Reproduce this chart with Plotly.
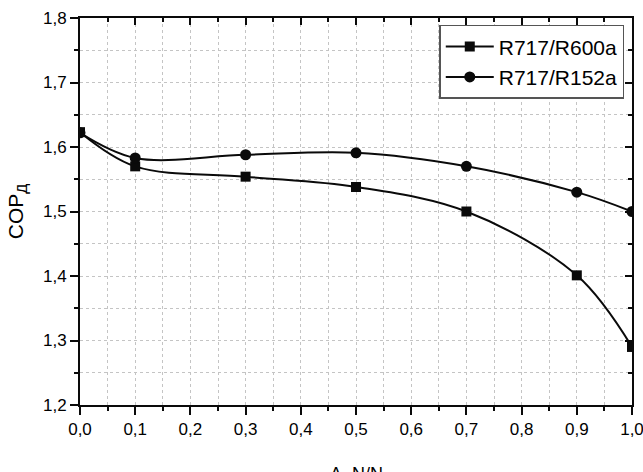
import plotly.graph_objects as go

# Mixture fraction and coefficient of performance for each working pair
fraction = [0.0, 0.1, 0.3, 0.5, 0.7, 0.9, 1.0]
cop_r600a = [1.623, 1.570, 1.554, 1.538, 1.500, 1.401, 1.290]
cop_r152a = [1.622, 1.583, 1.588, 1.591, 1.570, 1.530, 1.500]
series_names = ["R717/R600a", "R717/R152a"]

x_tick_vals = [0.0, 0.1, 0.2, 0.3, 0.4, 0.5, 0.6, 0.7, 0.8, 0.9, 1.0]
y_tick_vals = [1.2, 1.3, 1.4, 1.5, 1.6, 1.7, 1.8]

font_family = "Liberation Sans, Arial, sans-serif"
ink = "#0a0a0a"
grid_color = "#c4c4c4"

fig = go.Figure()

fig.add_trace(go.Scatter(
    x=fraction, y=cop_r600a, name=series_names[0],
    mode="lines+markers",
    line=dict(color=ink, width=2, shape="spline", smoothing=1.0),
    marker=dict(symbol="square", size=10, color=ink),
    cliponaxis=True,
))
fig.add_trace(go.Scatter(
    x=fraction, y=cop_r152a, name=series_names[1],
    mode="lines+markers",
    line=dict(color=ink, width=2, shape="spline", smoothing=1.0),
    marker=dict(symbol="circle", size=11, color=ink),
    cliponaxis=True,
))

axis_common = dict(
    showline=True, linecolor=ink, linewidth=2,
    ticks="outside", tickcolor=ink, tickwidth=2, ticklen=8,
    tickfont=dict(family=font_family, size=17, color="#000000"),
    ticklabeloverflow="allow", automargin=False,
    showgrid=True, gridcolor=grid_color, griddash="dot", gridwidth=1,
    zeroline=False, mirror=False,
)

fig.update_layout(
    width=643, height=472,
    margin=dict(l=80, r=11, t=18, b=67),
    paper_bgcolor="white", plot_bgcolor="white",
    separators=", ",
    showlegend=True,
    legend=dict(
        x=0.986, y=0.982, xanchor="right", yanchor="top",
        bgcolor="white", bordercolor="#555555", borderwidth=1.5,
        font=dict(family=font_family, size=21, color="#000000"),
        tracegroupgap=0, itemwidth=48,
    ),
    xaxis=dict(
        range=[0.0, 1.0], tickvals=x_tick_vals, tickformat=".1f",
        minor=dict(dtick=0.05, tick0=0, ticks="outside", ticklen=4, tickcolor=ink,
                   tickwidth=2, showgrid=True, gridcolor=grid_color, griddash="dot"),
        **axis_common,
    ),
    yaxis=dict(
        range=[1.2, 1.8], tickvals=y_tick_vals, tickformat=".1f",
        minor=dict(dtick=0.05, tick0=1.2, ticks="outside", ticklen=4, tickcolor=ink,
                   tickwidth=2, showgrid=True, gridcolor=grid_color, griddash="dot"),
        title=dict(text="COP<sub>Д</sub>",
                   font=dict(family=font_family, size=21, color="#000000"), standoff=14),
        **axis_common,
    ),
    # Frame on the top and right with inward ticks
    xaxis2=dict(
        overlaying="x", side="top", matches="x", range=[0.0, 1.0],
        showline=True, linecolor=ink, linewidth=2, automargin=False,
        ticks="inside", tickcolor=ink, tickwidth=2, ticklen=7,
        tickvals=x_tick_vals, showticklabels=False, showgrid=False, zeroline=False,
        minor=dict(dtick=0.05, tick0=0, ticks="inside", ticklen=4, tickcolor=ink, tickwidth=2),
    ),
    yaxis2=dict(
        overlaying="y", side="right", matches="y", range=[1.2, 1.8],
        showline=True, linecolor=ink, linewidth=2, automargin=False,
        ticks="inside", tickcolor=ink, tickwidth=2, ticklen=7,
        tickvals=y_tick_vals, showticklabels=False, showgrid=False, zeroline=False,
        minor=dict(dtick=0.05, tick0=1.2, ticks="inside", ticklen=4, tickcolor=ink, tickwidth=2),
    ),
)

# Invisible helper so the mirrored axes are drawn
fig.add_trace(go.Scatter(x=[None], y=[None], xaxis="x2", yaxis="y2",
                         showlegend=False, hoverinfo="skip"))

# Horizontal-axis title, partly below the page edge
fig.add_annotation(
    text="Λ, N/N", xref="paper", yref="paper", x=0.5, y=-0.147,
    xanchor="center", yanchor="top", showarrow=False,
    font=dict(family=font_family, size=18, color="#000000"),
)

fig.write_html("out.html")
